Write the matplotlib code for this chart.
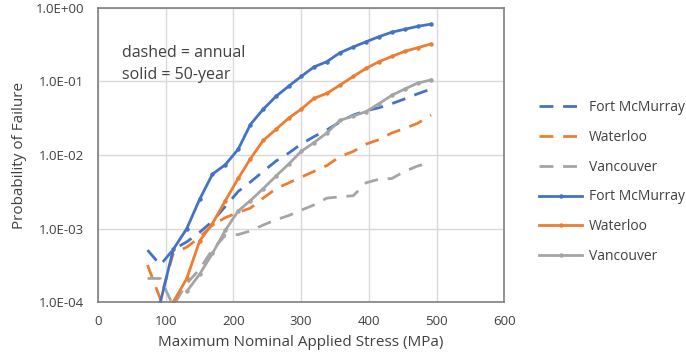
import math
import matplotlib
matplotlib.use('Agg')
import matplotlib.pyplot as plt
from matplotlib.ticker import FixedLocator, FuncFormatter

plt.rcParams['font.family'] = ['Open Sans', 'DejaVu Sans']

# stress points (MPa)
stress = [73, 92, 111, 131, 150, 169, 188, 207, 225, 244, 263, 282,
          300, 319, 338, 357, 377, 396, 415, 434, 453, 472, 492]

# annual probability of failure (dashed)
fm_annual = [5.1e-4, 3.2e-4, 5.2e-4, 6.6e-4, 8.9e-4, 1.26e-3, 2.0e-3, 3.2e-3,
             4.3e-3, 6.0e-3, 8.3e-3, 1.07e-2, 1.41e-2, 1.78e-2, 2.2e-2, 2.8e-2,
             3.5e-2, 4.0e-2, 4.4e-2, 5.0e-2, 5.8e-2, 6.8e-2, 7.9e-2]
wa_annual = [3.2e-4, 1.1e-4, 4.6e-4, 5.6e-4, 7.6e-4, 1.12e-3, 1.41e-3, 1.66e-3,
             1.9e-3, 2.6e-3, 3.5e-3, 4.2e-3, 5.0e-3, 6.0e-3, 7.2e-3, 9.5e-3,
             1.12e-2, 1.41e-2, 1.62e-2, 2.0e-2, 2.3e-2, 2.7e-2, 3.5e-2]
va_annual = [2.1e-4, 2.1e-4, 8.9e-5, 1.8e-4, 2.8e-4, 5.2e-4, 8.1e-4, 8.3e-4,
             9.3e-4, 1.12e-3, 1.32e-3, 1.51e-3, 1.78e-3, 2.1e-3, 2.6e-3, 2.7e-3,
             2.8e-3, 4.2e-3, 4.7e-3, 4.8e-3, 6.0e-3, 7.1e-3, 7.9e-3]

# 50-year probability of failure (solid), start later
fm_50 = [1.0e-4, 5.2e-4, 1.0e-3, 2.5e-3, 5.5e-3, 7.4e-3, 1.2e-2, 2.6e-2,
         4.2e-2, 6.3e-2, 8.7e-2, 0.117, 0.158, 0.186, 0.245, 0.295, 0.347,
         0.407, 0.468, 0.513, 0.562, 0.603]
wa_50 = [1.0e-4, 2.1e-4, 6.8e-4, 1.17e-3, 2.4e-3, 4.8e-3, 8.9e-3, 1.58e-2,
         2.24e-2, 3.2e-2, 4.2e-2, 5.9e-2, 6.9e-2, 8.9e-2, 0.117, 0.151, 0.186,
         0.219, 0.257, 0.288, 0.324]
va_50 = [1.4e-4, 2.4e-4, 4.6e-4, 9.5e-4, 1.74e-3, 2.4e-3, 3.5e-3, 5.2e-3,
         7.6e-3, 1.12e-2, 1.48e-2, 2.0e-2, 2.95e-2, 3.4e-2, 3.9e-2, 5.0e-2,
         6.5e-2, 7.9e-2, 9.5e-2, 0.105]

blue = '#4472C4'
orange = '#ED7D31'
grey = '#A5A5A5'
txt = '#404040'

fig = plt.figure(figsize=(6.86, 3.61), dpi=100)
ax = fig.add_axes([0.143, 0.163, 0.592, 0.815])

dash = (0, (5, 3.5))
ax.plot(stress, fm_annual, color=blue, lw=2, linestyle=dash, label='Fort McMurray')
ax.plot(stress, wa_annual, color=orange, lw=2, linestyle=dash, label='Waterloo')
ax.plot(stress, va_annual, color=grey, lw=2, linestyle=dash, label='Vancouver')
ax.plot(stress[1:], fm_50, color=blue, lw=2, marker='o', ms=2.2, label='Fort McMurray')
ax.plot(stress[2:], wa_50, color=orange, lw=2, marker='o', ms=2.2, label='Waterloo')
ax.plot(stress[3:], va_50, color=grey, lw=2, marker='o', ms=2.2, label='Vancouver')

ax.set_yscale('log')
ax.set_xlim(0, 600)
ax.set_ylim(1e-4, 1)
ax.set_xticks([0, 100, 200, 300, 400, 500, 600])
ax.yaxis.set_major_locator(FixedLocator([1e-4, 1e-3, 1e-2, 1e-1, 1]))
ax.yaxis.set_minor_locator(FixedLocator([]))
ax.yaxis.set_major_formatter(FuncFormatter(lambda v, p: '1.0E%+03d' % round(math.log10(v))))
ax.grid(True, color='#d9d9d9', lw=1)
ax.set_axisbelow(True)
ax.tick_params(length=0, labelsize=9.5, colors=txt)
ax.tick_params(axis='y', pad=10)
ax.tick_params(axis='x', pad=9)
for s in ax.spines.values():
    s.set_color('#808080')
    s.set_linewidth(1.2)

ax.set_xlabel('Maximum Nominal Applied Stress (MPa)', fontsize=11, color=txt, labelpad=5)
ax.set_ylabel('Probability of Failure', fontsize=11, color=txt, labelpad=6)

ax.text(0.06, 0.875, 'dashed = annual\nsolid = 50-year', transform=ax.transAxes,
        fontsize=11.5, color=txt, va='top', linespacing=1.55)

ax.legend(loc='upper left', bbox_to_anchor=(1.055, 0.73), frameon=False, fontsize=10,
          handlelength=3.1, handletextpad=0.5, labelspacing=1.07, labelcolor=txt)

fig.savefig('out.png', dpi=100)
